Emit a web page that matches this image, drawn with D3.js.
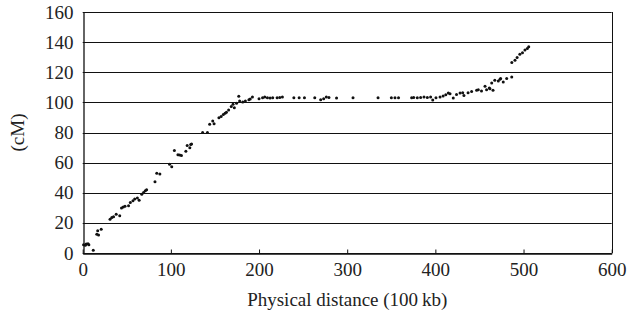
<!DOCTYPE html>
<html>
<head>
<meta charset="utf-8">
<script src="https://cdn.jsdelivr.net/npm/d3@7"></script>
<style>
  body { margin: 0; background: #fff; }
  text { font-family: "Liberation Serif", "DejaVu Serif", serif; fill: #222; }
</style>
</head>
<body>
<div id="datavis"></div>
<script>
// physical position (100 kb) and genetic position (cM)
const physical = [1, 3, 4, 6, 7, 12, 16, 17, 18, 21, 31, 33, 35, 38, 42, 44, 46, 48, 52, 54,
  57, 59, 62, 64, 67, 69, 71, 72.5, 82, 84, 87.5, 98.5, 101, 104, 108, 110, 112, 117, 118.5, 121.5,
  122.5, 123.5, 136, 141.5, 144, 147.5, 149, 154.5, 157, 159.5, 161.5, 163, 165.5, 168.5, 170.5, 172, 174.5, 177, 178, 181.5,
  184.5, 188.5, 190, 192.5, 200, 204, 206.5, 209.5, 212.5, 215.5, 220.5, 223.5, 226.5, 239.5, 245.5, 251.5, 263.2, 269.9, 273.3, 276.3,
  279.3, 287.9, 306.6, 335, 350.1, 354.2, 358.2, 373.1, 375.4, 379.5, 383.3, 387.1, 390.9, 394.6, 397, 400.7, 405.3, 408.8,
  411.8, 414.7, 416.6, 420.3, 424, 428, 431, 432.4, 437.1, 441.1, 446.8, 448.7, 452.3, 456.3, 458.1, 461.2, 461.9, 463.9,
  465.4, 467.4, 471.4, 473.3, 474, 477, 480.9, 486.6, 486.7, 490.3, 492.7, 495.8, 498.8, 501.6, 504.3, 505.9]

const cM = [5.5, 5.1, 6, 6.2, 5.5, 1.8, 12.4, 14.7, 12, 15.8, 22.4, 23.5, 24, 25.8, 24.7, 29.8, 30.5, 31, 31.3, 33.5,
  34.7, 35.8, 36.5, 35, 39, 40.2, 41.3, 42, 47.3, 53, 52.4, 59, 57.3, 68, 65.3, 65, 64.7, 67.5, 71.3, 69.8,
  72, 72.4, 80, 80, 85.5, 87.6, 85.8, 89.8, 90.7, 92, 92.7, 93.5, 95, 97.3, 98.7, 96.4, 99.5, 104, 100.9, 100.2,
  100.9, 101.8, 102.2, 103.5, 102.4, 103, 103.5, 103, 102.9, 103, 103, 103.2, 103.5, 103, 103, 103, 103, 101.8, 102.4, 103.5,
  103.2, 102.9, 103, 103, 103, 103, 103, 103, 103.2, 103, 103.2, 103.5, 103.2, 103.5, 101.5, 103, 103.5, 104.2,
  105, 106.2, 105.8, 102.9, 105.2, 106.2, 106.4, 104.5, 106.4, 107.3, 108, 108.4, 107.6, 110.7, 108.4, 109.5, 109.1, 112.9,
  108, 114.7, 114.2, 115.3, 115.8, 113.5, 115.8, 116.9, 126.5, 128, 129.8, 132, 132.9, 134.7, 135.8, 136.9]

const xTicks = [0, 100, 200, 300, 400, 500, 600]
const yTicks = [0, 20, 40, 60, 80, 100, 120, 140, 160]

const points = physical.map((p, i) => ({x: p, y: cM[i]}))

const width = 627, height = 317
const margin = {top: 12, right: 15.3, bottom: 64, left: 82.7}

const svg = d3.select("#datavis")
  .append("svg")
  .attr("width", width)
  .attr("height", height)

const x = d3.scaleLinear()
  .domain([0, 600])
  .range([margin.left, width - margin.right])

const y = d3.scaleLinear()
  .domain([0, 160])
  .range([height - margin.bottom, margin.top])

// horizontal gridlines
svg.append("g")
  .selectAll("line")
  .data(yTicks)
  .join("line")
    .attr("x1", x(0))
    .attr("x2", x(600))
    .attr("y1", d => Math.round(y(d)) + 0.5)
    .attr("y2", d => Math.round(y(d)) + 0.5)
    .attr("stroke", "#111")
    .attr("stroke-width", 1)

// right border
svg.append("line")
  .attr("x1", Math.round(x(600)) + 0.5)
  .attr("x2", Math.round(x(600)) + 0.5)
  .attr("y1", y(160))
  .attr("y2", y(0))
  .attr("stroke", "#111")

// y axis
const yAxis = svg.append("g")
  .attr("transform", `translate(${Math.round(x(0)) + 0.5},0)`)
  .call(d3.axisLeft(y).tickValues(yTicks).tickSize(0).tickPadding(10))
yAxis.select(".domain").attr("stroke", "#111").attr("stroke-width", 1.3)
yAxis.selectAll("text").attr("font-size", 19).attr("font-family", "Liberation Serif")

// x axis, ticks point inward
const xAxis = svg.append("g")
  .attr("transform", `translate(0,${Math.round(y(0)) + 0.5})`)
  .call(d3.axisBottom(x).tickValues(xTicks).tickSizeInner(-4).tickSizeOuter(0).tickPadding(9))
xAxis.select(".domain").attr("stroke", "#111").attr("stroke-width", 1.3)
xAxis.selectAll(".tick line").attr("stroke", "#111")
xAxis.selectAll("text").attr("font-size", 19).attr("font-family", "Liberation Serif")

// dots
svg.append("g")
  .selectAll("circle")
  .data(points)
  .join("circle")
    .attr("cx", d => x(d.x))
    .attr("cy", d => y(d.y))
    .attr("r", 1.5)
    .attr("fill", "#111")

// axis titles
svg.append("text")
  .attr("x", (x(0) + x(600)) / 2)
  .attr("y", 306)
  .attr("text-anchor", "middle")
  .attr("font-size", 19)
  .text("Physical distance (100\u2009kb)")

svg.append("text")
  .attr("transform", `translate(24,${(y(0) + y(160)) / 2}) rotate(-90)`)
  .attr("text-anchor", "middle")
  .attr("font-size", 19)
  .text("(cM)")
</script>
</body>
</html>
